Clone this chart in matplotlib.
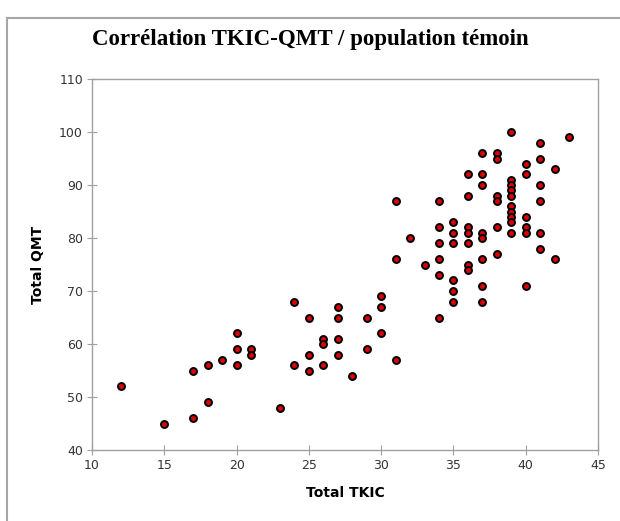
import matplotlib
matplotlib.use('Agg')
import matplotlib.pyplot as plt
from matplotlib.patches import Rectangle

# Scores (one entry per subject)
total_tkic = [12, 15, 17, 17, 18, 18, 19, 20, 20, 20, 21, 21, 23, 24, 24,
              25, 25, 25, 26, 26, 26, 27, 27, 27, 27, 28, 29, 29, 30, 30, 30,
              31, 31, 31, 32, 33,
              34, 34, 34, 34, 34, 34,
              35, 35, 35, 35, 35, 35,
              36, 36, 36, 36, 36, 36, 36,
              37, 37, 37, 37, 37, 37, 37, 37,
              38, 38, 38, 38, 38, 38,
              39, 39, 39, 39, 39, 39, 39, 39, 39, 39,
              40, 40, 40, 40, 40, 40,
              41, 41, 41, 41, 41, 41,
              42, 42, 43]
total_qmt = [52, 45, 55, 46, 56, 49, 57, 62, 59, 56, 59, 58, 48, 56, 68,
             65, 58, 55, 61, 60, 56, 67, 65, 61, 58, 54, 65, 59, 69, 67, 62,
             57, 76, 87, 80, 75,
             87, 82, 79, 76, 73, 65,
             83, 81, 79, 72, 70, 68,
             92, 88, 82, 81, 79, 75, 74,
             96, 92, 90, 81, 80, 76, 71, 68,
             96, 95, 88, 87, 82, 77,
             100, 91, 90, 89, 88, 86, 85, 84, 83, 81,
             94, 92, 84, 82, 81, 71,
             98, 95, 90, 87, 81, 78,
             93, 76, 99]

x_ticks = [10, 15, 20, 25, 30, 35, 40, 45]
y_ticks = [40, 50, 60, 70, 80, 90, 100, 110]

fig = plt.figure(figsize=(6.2, 5.21), dpi=100)
ax = fig.add_axes([92 / 620, 71 / 521, 506 / 620, 371 / 521])

# grey outer frame like the spreadsheet chart border
fig.patches.append(Rectangle((7 / 620, -0.1), 1.2, 1.1 - 18 / 521,
                             transform=fig.transFigure, fill=False,
                             edgecolor='#a6a6a6', linewidth=1.5))

ax.plot(total_tkic, total_qmt, linestyle='none', marker='o',
        markersize=5, markerfacecolor='#e00000', markeredgecolor='black',
        markeredgewidth=1.4)

ax.set_xlim(10, 45)
ax.set_ylim(40, 110)
ax.set_xticks(x_ticks)
ax.set_yticks(y_ticks)
for s in ax.spines.values():
    s.set_color('#a0a0a0')
    s.set_linewidth(1.0)
ax.tick_params(direction='inout', length=7, color='#a0a0a0',
               labelsize=9, labelcolor='#333333', pad=3)

ax.set_xlabel('Total TKIC', fontsize=10, fontweight='bold', labelpad=10)
ax.set_ylabel('Total QMT', fontsize=10, fontweight='bold', labelpad=10)

fig.text(0.5, 1 - 40 / 521, 'Corrélation TKIC-QMT / population témoin',
         ha='center', va='center', fontsize=16.5, fontweight='bold',
         family='Liberation Serif')

fig.savefig('out.png', dpi=100)
